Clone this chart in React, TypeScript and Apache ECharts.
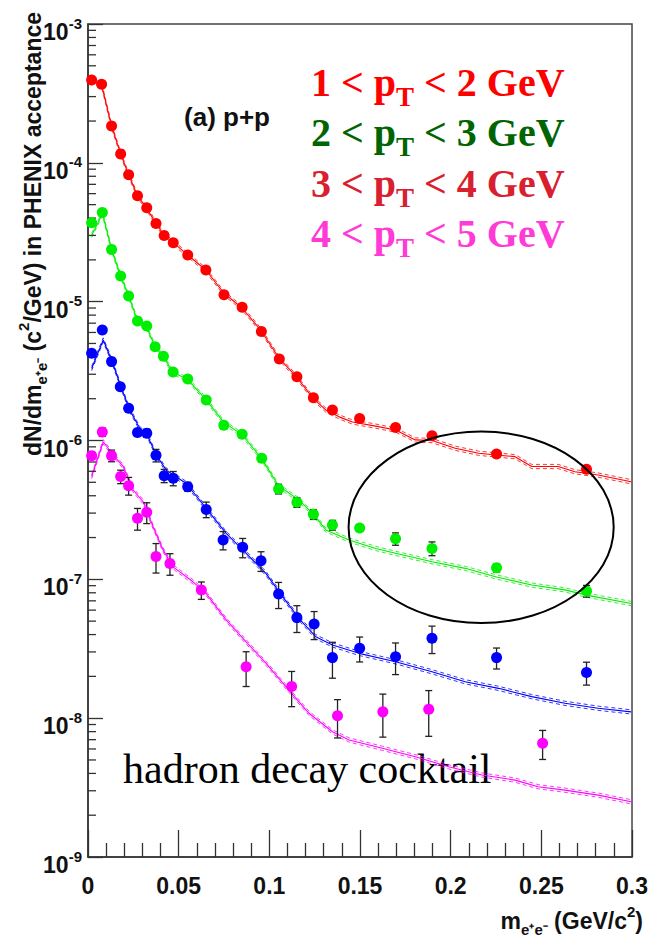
import React, { useEffect, useRef } from "react";
import * as echarts from "echarts";

// ---- measured dielectron yields, four pT slices ----
const redX = [0.002, 0.0075, 0.013, 0.018, 0.0224, 0.0273, 0.0324, 0.0375, 0.042, 0.047, 0.055, 0.065, 0.075, 0.085, 0.0956, 0.1055, 0.1152, 0.1243, 0.1348, 0.1498, 0.1696, 0.1897, 0.2253, 0.2749];
const redY = [3.95e-4, 3.68e-4, 1.84e-4, 1.16e-4, 8.2e-5, 5.8e-5, 4.75e-5, 3.66e-5, 3.0e-5, 2.66e-5, 2.17e-5, 1.69e-5, 1.12e-5, 9.1e-6, 6.1e-6, 3.86e-6, 2.88e-6, 2.03e-6, 1.66e-6, 1.44e-6, 1.24e-6, 1.08e-6, 8.0e-7, 6.2e-7];
const redErr = [8e-6, 7e-6, 4e-6, 2.4e-6, 1.7e-6, 1.2e-6, 1e-6, 8e-7, 6.5e-7, 5.8e-7, 4.6e-7, 3.6e-7, 2.5e-7, 2e-7, 1.4e-7, 9e-8, 7e-8, 5e-8, 4.2e-8, 3.7e-8, 3.2e-8, 2.9e-8, 2.2e-8, 1.8e-8];

const greenX = [0.002, 0.0079, 0.013, 0.018, 0.0224, 0.0273, 0.0324, 0.037, 0.0416, 0.0469, 0.055, 0.0652, 0.0749, 0.085, 0.0958, 0.1051, 0.1152, 0.1243, 0.1348, 0.1498, 0.1696, 0.1897, 0.2253, 0.2749];
const greenY = [3.7e-5, 4.38e-5, 2.38e-5, 1.53e-5, 1.1e-5, 7.26e-6, 6.68e-6, 4.74e-6, 4.04e-6, 3.11e-6, 2.77e-6, 1.96e-6, 1.29e-6, 1.11e-6, 7.44e-7, 4.48e-7, 3.59e-7, 2.94e-7, 2.46e-7, 2.34e-7, 1.96e-7, 1.67e-7, 1.21e-7, 8.24e-8];
const greenErr = [1.1e-6, 1.3e-6, 7e-7, 4.6e-7, 3.3e-7, 2.2e-7, 2.0e-7, 1.4e-7, 1.2e-7, 9e-8, 8e-8, 6e-8, 4e-8, 3.5e-8, 2.6e-8, 3.6e-8, 2.9e-8, 2.4e-8, 2.0e-8, 1.2e-8, 2.0e-8, 1.9e-8, 8e-9, 8e-9];

const blueX = [0.002, 0.0079, 0.013, 0.0178, 0.0224, 0.0273, 0.0324, 0.0375, 0.042, 0.047, 0.055, 0.0652, 0.0745, 0.0853, 0.0954, 0.1051, 0.1152, 0.1247, 0.1348, 0.1498, 0.1696, 0.1897, 0.2253, 0.2749];
const blueY = [4.25e-6, 6.25e-6, 3.7e-6, 2.44e-6, 1.71e-6, 1.14e-6, 1.13e-6, 7.82e-7, 5.58e-7, 5.35e-7, 4.65e-7, 3.19e-7, 1.92e-7, 1.7e-7, 1.36e-7, 7.83e-8, 5.3e-8, 4.77e-8, 2.73e-8, 3.19e-8, 2.77e-8, 3.76e-8, 2.73e-8, 2.13e-8];
const blueErr = [1.5e-7, 2.2e-7, 1.5e-7, 1.1e-7, 9e-8, 7e-8, 7e-8, 8.1e-8, 6.1e-8, 6.3e-8, 3.5e-8, 4.1e-8, 2.9e-8, 2.7e-8, 2.2e-8, 1.67e-8, 1.16e-8, 1.09e-8, 7.9e-9, 6.5e-9, 7.1e-9, 8.4e-9, 4.7e-9, 4.0e-9];

const magentaX = [0.002, 0.0079, 0.013, 0.018, 0.0224, 0.0273, 0.0324, 0.0375, 0.0452, 0.0625, 0.0872, 0.1123, 0.1376, 0.1626, 0.1879, 0.2507];
const magentaY = [7.78e-7, 1.15e-6, 7.78e-7, 5.5e-7, 4.73e-7, 2.75e-7, 3.04e-7, 1.46e-7, 1.3e-7, 8.37e-8, 2.35e-8, 1.69e-8, 1.04e-8, 1.11e-8, 1.16e-8, 6.6e-9];
const magentaErr = [3.9e-8, 8e-8, 7.5e-8, 6.1e-8, 6.9e-8, 4.9e-8, 5.2e-8, 3.5e-8, 2.3e-8, 1.2e-8, 6.6e-9, 4.8e-9, 3.2e-9, 3.8e-9, 4.2e-9, 1.56e-9];

// ---- hadron decay cocktail expectations ----
const redCurveX = [0.001, 0.0075, 0.013, 0.018, 0.0224, 0.0273, 0.0324, 0.0375, 0.042, 0.047, 0.055, 0.065, 0.075, 0.085, 0.0954, 0.1055, 0.1152, 0.1243, 0.1311, 0.1385, 0.1458, 0.1586, 0.1696, 0.1805, 0.1897, 0.2025, 0.2154, 0.2253, 0.2355, 0.2447, 0.2593, 0.2685, 0.2813, 0.2995];
const redCurveY = [3.9e-4, 3.65e-4, 1.84e-4, 1.16e-4, 8.2e-5, 5.8e-5, 4.7e-5, 3.66e-5, 3.0e-5, 2.66e-5, 2.17e-5, 1.69e-5, 1.15e-5, 9.0e-6, 6.2e-6, 3.9e-6, 2.85e-6, 2.0e-6, 1.66e-6, 1.48e-6, 1.36e-6, 1.27e-6, 1.19e-6, 1.01e-6, 1.0e-6, 8.8e-7, 8.1e-7, 7.87e-7, 7.65e-7, 6.5e-7, 6.5e-7, 5.96e-7, 5.64e-7, 5.05e-7];

const greenCurveX = [0.002, 0.008, 0.013, 0.018, 0.0224, 0.0273, 0.0324, 0.037, 0.0416, 0.0469, 0.055, 0.0652, 0.0749, 0.085, 0.0958, 0.1051, 0.1165, 0.1256, 0.1311, 0.144, 0.1586, 0.1696, 0.1897, 0.208, 0.2253, 0.2447, 0.263, 0.2749, 0.2995];
const greenCurveY = [3.0e-5, 4.3e-5, 2.38e-5, 1.53e-5, 1.1e-5, 7.3e-6, 6.5e-6, 4.74e-6, 4.0e-6, 3.1e-6, 2.75e-6, 1.96e-6, 1.35e-6, 1.1e-6, 7.4e-7, 4.7e-7, 3.72e-7, 2.82e-7, 2.27e-7, 1.92e-7, 1.67e-7, 1.54e-7, 1.34e-7, 1.2e-7, 1.04e-7, 9.1e-8, 8.4e-8, 7.7e-8, 6.7e-8];

const blueCurveX = [0.002, 0.0084, 0.013, 0.0185, 0.023, 0.0286, 0.0331, 0.0377, 0.0432, 0.0542, 0.0652, 0.0762, 0.0872, 0.0982, 0.1073, 0.1165, 0.1256, 0.1348, 0.1495, 0.1696, 0.1897, 0.208, 0.2264, 0.2447, 0.263, 0.2813, 0.2995];
const blueCurveY = [3.3e-6, 5.3e-6, 3.8e-6, 2.38e-6, 1.66e-6, 1.22e-6, 1.06e-6, 7.85e-7, 6.1e-7, 4.9e-7, 3.24e-7, 2.14e-7, 1.54e-7, 1.1e-7, 7.5e-8, 5.2e-8, 3.86e-8, 3.37e-8, 2.93e-8, 2.55e-8, 2.16e-8, 1.83e-8, 1.64e-8, 1.43e-8, 1.28e-8, 1.18e-8, 1.11e-8];

const magentaCurveX = [0.002, 0.0084, 0.0139, 0.0194, 0.0249, 0.0304, 0.0359, 0.0414, 0.0469, 0.0579, 0.0652, 0.0762, 0.0872, 0.0982, 0.1123, 0.122, 0.1348, 0.144, 0.1623, 0.1805, 0.1989, 0.2172, 0.2355, 0.2482, 0.263, 0.2813, 0.2995];
const magentaCurveY = [5.5e-7, 9.8e-7, 7.86e-7, 6.5e-7, 4.4e-7, 3.62e-7, 2.39e-7, 1.63e-7, 1.23e-7, 9.6e-8, 7.9e-8, 5.1e-8, 3.55e-8, 2.48e-8, 1.51e-8, 1.08e-8, 7.98e-9, 6.97e-9, 6.07e-9, 5.28e-9, 4.47e-9, 3.9e-9, 3.58e-9, 3.21e-9, 3.03e-9, 2.79e-9, 2.5e-9];

// relative systematic uncertainty of the cocktail (dashed band)
const cocktailBandRel = [0.035, 0.035, 0.035, 0.035];

// pT slice labels
const sliceLow = ["1", "2", "3", "4"];
const sliceHigh = ["2", "3", "4", "5"];
const sliceTextColors = ["#ff0000", "#006400", "#d8202e", "#ff3ad6"];
const markerColors = ["#ff0000", "#00ee00", "#0000ff", "#ff00ff"];

// x-axis ticks, y-axis decades
const xMin = 0;
const xMax = 0.3;
const xInterval = 0.05;
const yMin = 1e-9;
const yMax = 1e-3;
const minorMantissas = [2, 3, 4, 5, 6, 7, 8, 9];
const decadeExponents = [-9, -8, -7, -6, -5, -4];

// highlighted region (ellipse) in data units
const ellipseX = [0.1437, 0.2899];
const ellipseY = [4.84e-8, 1.16e-6];

const SANS = "'Liberation Sans', Arial, sans-serif";
const SERIF = "'Liberation Serif', 'Times New Roman', serif";

const zip = (xs: number[], ys: number[]) => xs.map((x, i) => [x, ys[i]]);

export default function App() {
  const ref = useRef<HTMLDivElement>(null);

  useEffect(() => {
    if (!ref.current) return;
    document.body.style.margin = "0";
    const chart = echarts.init(ref.current, undefined, { renderer: "svg" });

    const points = [
      { x: redX, y: redY, e: redErr },
      { x: greenX, y: greenY, e: greenErr },
      { x: blueX, y: blueY, e: blueErr },
      { x: magentaX, y: magentaY, e: magentaErr },
    ];
    const curves = [
      { x: redCurveX, y: redCurveY },
      { x: greenCurveX, y: greenCurveY },
      { x: blueCurveX, y: blueCurveY },
      { x: magentaCurveX, y: magentaCurveY },
    ];

    const minorTicks: number[][] = [];
    decadeExponents.forEach((d) =>
      minorMantissas.forEach((m) => minorTicks.push([0, m * Math.pow(10, d)]))
    );

    const series: any[] = [];

    curves.forEach((c, i) => {
      const color = markerColors[i];
      const rel = cocktailBandRel[i];
      series.push({
        type: "line",
        data: zip(c.x, c.y),
        showSymbol: false,
        silent: true,
        lineStyle: { color, width: 1.1 },
        z: 2,
      });
      [1 + rel, 1 - rel].forEach((f) =>
        series.push({
          type: "line",
          data: zip(c.x, c.y.map((v) => v * f)),
          showSymbol: false,
          silent: true,
          lineStyle: { color, width: 0.8, type: [4, 3] },
          z: 2,
        })
      );
    });

    points.forEach((p) => {
      series.push({
        type: "custom",
        silent: true,
        z: 3,
        data: p.x.map((x, k) => [x, p.y[k], p.e[k]]),
        renderItem: (params: any, api: any) => {
          const x = api.value(0);
          const y = api.value(1);
          const s = api.value(2);
          const hi = api.coord([x, y + s]);
          const lo = api.coord([x, Math.max(y - s, yMin)]);
          const cap = 3.5;
          const st = { stroke: "#222", lineWidth: 1.3 };
          return {
            type: "group",
            children: [
              { type: "line", shape: { x1: hi[0], y1: hi[1], x2: lo[0], y2: lo[1] }, style: st },
              { type: "line", shape: { x1: hi[0] - cap, y1: hi[1], x2: hi[0] + cap, y2: hi[1] }, style: st },
              { type: "line", shape: { x1: lo[0] - cap, y1: lo[1], x2: lo[0] + cap, y2: lo[1] }, style: st },
            ],
          };
        },
      });
    });
    points.forEach((p, i) => {
      series.push({
        type: "scatter",
        data: zip(p.x, p.y),
        symbol: "circle",
        symbolSize: 11,
        silent: true,
        itemStyle: { color: markerColors[i], opacity: 1 },
        z: 10,
      });
    });

    // minor ticks at 2..9 of each decade on the log axis
    series.push({
      type: "custom",
      silent: true,
      clip: false,
      z: 5,
      data: minorTicks,
      renderItem: (params: any, api: any) => {
        const p = api.coord([api.value(0), api.value(1)]);
        return {
          type: "line",
          shape: { x1: p[0], y1: p[1], x2: p[0] + 8, y2: p[1] },
          style: { stroke: "#333", lineWidth: 1.3 },
        };
      },
    });

    // highlighted region
    series.push({
      type: "custom",
      silent: true,
      clip: false,
      z: 12,
      data: [[ellipseX[0], ellipseX[1], ellipseY[0], ellipseY[1]]],
      renderItem: (params: any, api: any) => {
        const cxData = (api.value(0) + api.value(1)) / 2;
        const left = api.coord([api.value(0), api.value(3)]);
        const right = api.coord([api.value(1), api.value(3)]);
        const top = api.coord([cxData, api.value(3)]);
        const bottom = api.coord([cxData, api.value(2)]);
        return {
          type: "ellipse",
          shape: {
            cx: (left[0] + right[0]) / 2,
            cy: (top[1] + bottom[1]) / 2,
            rx: (right[0] - left[0]) / 2,
            ry: (bottom[1] - top[1]) / 2,
          },
          style: { fill: "none", stroke: "#000", lineWidth: 2 },
        };
      },
    });

    const legendTexts = sliceLow.map((lo, i) => ({
      type: "text",
      x: 311,
      y: 82 + i * 50.5,
      silent: true,
      style: {
        text: `{n|${lo} < p}{t|T}{n| < ${sliceHigh[i]} GeV}`,
        align: "left",
        verticalAlign: "middle",
        rich: {
          n: { fontFamily: SERIF, fontWeight: "bold", fontSize: 40, lineHeight: 40, verticalAlign: "top", fill: sliceTextColors[i] },
          t: { fontFamily: SERIF, fontWeight: "bold", fontSize: 27, lineHeight: 27, verticalAlign: "top", padding: [21, 0, 0, 0], fill: sliceTextColors[i] },
        },
      },
    }));

    const titleRich = {
      a: { fontFamily: SANS, fontWeight: "bold", fontSize: 23, lineHeight: 23, verticalAlign: "top", padding: [6, 0, 0, 0], fill: "#111" },
      s: { fontFamily: SANS, fontWeight: "bold", fontSize: 15, lineHeight: 15, verticalAlign: "top", padding: [18, 0, 0, 0], fill: "#111" },
      p: { fontFamily: SANS, fontWeight: "bold", fontSize: 15, lineHeight: 15, verticalAlign: "top", padding: [0, 0, 0, 0], fill: "#111" },
    };

    const option: any = {
      animation: false,
      backgroundColor: "#fff",
      grid: { left: 88, right: 17, top: 24, bottom: 81, show: true, borderColor: "#444", borderWidth: 1.5, backgroundColor: "transparent" },
      xAxis: {
        type: "value",
        min: xMin,
        max: xMax,
        interval: xInterval,
        axisLine: { show: true, lineStyle: { color: "#333", width: 1.5 } },
        axisTick: { show: true, inside: true, length: 27, lineStyle: { color: "#333", width: 1.3 } },
        minorTick: { show: true, splitNumber: 5, length: 14, lineStyle: { color: "#333", width: 1.3 } },
        splitLine: { show: false },
        axisLabel: { margin: 17, fontFamily: SANS, fontWeight: "bold", fontSize: 23, color: "#111" },
      },
      yAxis: {
        type: "log",
        logBase: 10,
        min: yMin,
        max: yMax,
        splitNumber: 6,
        axisLine: { show: true, lineStyle: { color: "#333", width: 1.5 } },
        axisTick: { show: true, inside: true, length: 15, lineStyle: { color: "#333", width: 1.3 } },
        minorTick: { show: false },
        splitLine: { show: false },
        axisLabel: {
          margin: 6,
          formatter: (v: number) => `{b|10}{s|${Math.round(Math.log10(v))}}`,
          rich: {
            b: { fontFamily: SANS, fontWeight: "bold", fontSize: 23, lineHeight: 23, verticalAlign: "top", padding: [8, 0, 0, 0], color: "#111" },
            s: { fontFamily: SANS, fontWeight: "bold", fontSize: 15, lineHeight: 15, verticalAlign: "top", padding: [3, 0, 0, 0], color: "#111" },
          },
        },
      },
      series,
      graphic: [
        ...legendTexts,
        {
          type: "text",
          x: 227,
          y: 117,
          silent: true,
          style: { text: "(a) p+p", fontFamily: SANS, fontWeight: "bold", fontSize: 26, fill: "#111", align: "center", verticalAlign: "middle" },
        },
        {
          type: "text",
          x: 123,
          y: 769,
          silent: true,
          style: { text: "hadron decay cocktail", fontFamily: SERIF, fontSize: 42, fill: "#000", align: "left", verticalAlign: "middle" },
        },
        {
          type: "text",
          x: 27,
          y: 234,
          rotation: Math.PI / 2,
          silent: true,
          style: {
            text: "{a|dN/dm}{s|e⁺e⁻}{a| (c}{p|2}{a|/GeV) in PHENIX acceptance}",
            align: "center",
            verticalAlign: "middle",
            rich: titleRich,
          },
        },
        {
          type: "text",
          x: 643,
          y: 915,
          silent: true,
          style: {
            text: "{a|m}{s|e⁺e⁻}{a| (GeV/c}{p|2}{a|)}",
            align: "right",
            verticalAlign: "middle",
            rich: titleRich,
          },
        },
      ],
    };

    chart.setOption(option);
    return () => chart.dispose();
  }, []);

  return <div ref={ref} style={{ width: 651, height: 938 }} />;
}
